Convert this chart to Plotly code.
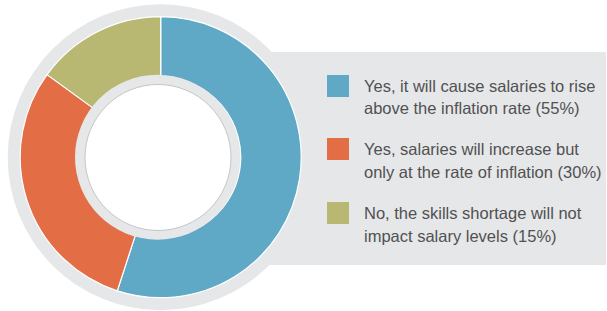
import plotly.graph_objects as go

labels = [
    "Yes, it will cause salaries to rise<br>above the inflation rate (55%)",
    "Yes, salaries will increase but<br>only at the rate of inflation (30%)",
    "No, the skills shortage will not<br>impact salary levels (15%)",
]
values = [55, 30, 15]
colors = ["#5fa8c6", "#e36d45", "#b8b873"]

W, H = 607, 311
GREY = "#e6e7e8"


def px(x):
    return x / W


def py(y):
    return 1 - y / H


cx, cy, r = 160.7, 157.2, 140.5

fig = go.Figure(
    go.Pie(
        labels=labels,
        values=values,
        marker=dict(colors=colors, line=dict(color="#ffffff", width=1.2)),
        hole=0.57,
        sort=False,
        direction="clockwise",
        rotation=0,
        textinfo="none",
        hoverinfo="label+percent",
        showlegend=False,
        domain=dict(x=[px(cx - r), px(cx + r)], y=[py(cy + r), py(cy - r)]),
    )
)

shapes = [
    # grey legend panel
    dict(type="rect", xref="paper", yref="paper", layer="below",
         x0=px(170), x1=px(606), y0=py(265), y1=py(52),
         fillcolor=GREY, line=dict(width=0)),
    # outer grey ring
    dict(type="circle", xref="paper", yref="paper", layer="below",
         x0=px(cx - 153), x1=px(cx + 153), y0=py(cy + 153), y1=py(cy - 153),
         fillcolor=GREY, line=dict(width=0)),
    # inner grey ring
    dict(type="circle", xref="paper", yref="paper", layer="above",
         x0=px(157.5 - 82.5), x1=px(157.5 + 82.5), y0=py(157.2 + 82.5), y1=py(157.2 - 82.5),
         fillcolor=GREY, line=dict(width=0)),
    # white centre
    dict(type="circle", xref="paper", yref="paper", layer="above",
         x0=px(158 - 73), x1=px(158 + 73), y0=py(157.5 + 73), y1=py(157.5 - 73),
         fillcolor="#ffffff", line=dict(color="#c6c6c6", width=1)),
]

annotations = []
sq_tops = [75, 138, 202]
for i, (lab, col) in enumerate(zip(labels, colors)):
    t = sq_tops[i]
    shapes.append(dict(type="rect", xref="paper", yref="paper", layer="above",
                       x0=px(327), x1=px(349), y0=py(t + 22), y1=py(t),
                       fillcolor=col, line=dict(width=0)))
    for j, line in enumerate(lab.split("<br>")):
        annotations.append(dict(
            text=line, xref="paper", yref="paper", x=px(362), y=py(t + 11 + 22.5 * j),
            xanchor="left", yanchor="middle", align="left", showarrow=False,
            font=dict(family="Liberation Sans, Arial, sans-serif",
                      size=16.5, color="#505153"),
        ))

fig.update_layout(
    width=W, height=H,
    margin=dict(l=0, r=0, t=0, b=0),
    paper_bgcolor="#ffffff",
    plot_bgcolor="#ffffff",
    shapes=shapes,
    annotations=annotations,
)

fig.write_html("out.html", config={"displayModeBar": False},
               post_script="document.body.style.margin='0';")
